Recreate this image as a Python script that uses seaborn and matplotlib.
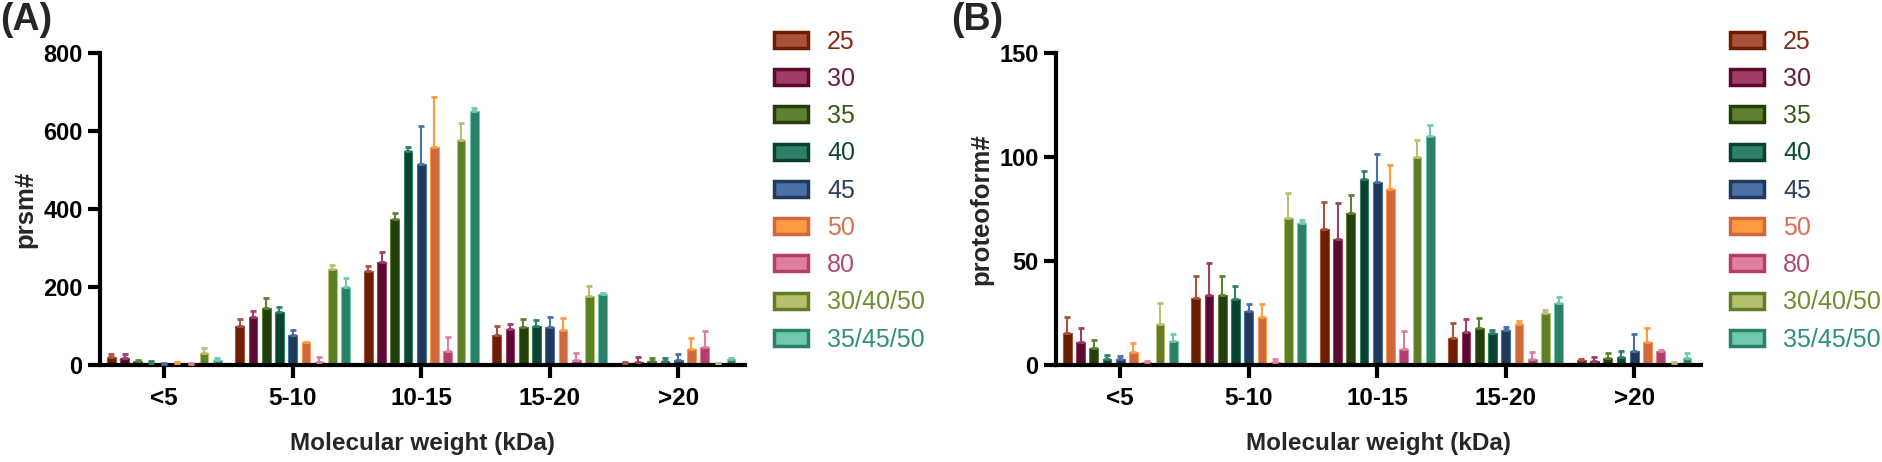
import numpy as np
import pandas as pd
import seaborn as sns
import matplotlib.pyplot as plt
from matplotlib.patches import Patch

# --- data (mean, upper error) ---
categories = ['<5', '5-10', '10-15', '15-20', '>20']
series = ['25', '30', '35', '40', '45', '50', '80', '30/40/50', '35/45/50']

# rows follow `series`, columns follow `categories`
prsm_mean = [
    [20, 100, 240, 78, 5],
    [19, 124, 264, 92, 8],
    [9, 146, 374, 97, 10],
    [6, 135, 549, 100, 10],
    [3, 77, 515, 97, 13],
    [6, 58, 559, 90, 41],
    [2, 7, 36, 13, 45],
    [32, 246, 576, 177, 4],
    [14, 200, 652, 183, 15],
]
prsm_sd = [
    [8, 18, 14, 22, 2],
    [9, 15, 26, 12, 13],
    [3, 26, 17, 20, 7],
    [3, 13, 11, 15, 9],
    [2, 14, 99, 27, 15],
    [2, 1, 128, 31, 27],
    [2, 14, 35, 19, 42],
    [12, 10, 46, 26, 1],
    [5, 22, 7, 2, 4],
]
proteo_mean = [
    [15.5, 32, 65.6, 13.1, 2.4],
    [11, 33.7, 60.6, 15.7, 1.9],
    [8.3, 33.7, 73.2, 17.9, 3.2],
    [2.9, 31.8, 89.6, 15.2, 3.7],
    [2.9, 25.9, 88, 16.8, 6.9],
    [6.4, 22.9, 84.8, 19.5, 11.2],
    [1.5, 1.3, 7.7, 2.7, 6.7],
    [19.5, 70.7, 100, 24.8, 1.0],
    [11.5, 68.3, 109.9, 29.6, 3.2],
]
proteo_sd = [
    [7.5, 11, 12.8, 6.9, 0.3],
    [7, 15.3, 17.3, 6.2, 2.1],
    [3.7, 9, 8.7, 4.5, 2.8],
    [1.9, 6.1, 3.6, 1.6, 3],
    [1.4, 3.5, 13.6, 1.6, 8],
    [4, 6.5, 11.5, 1.6, 6.7],
    [0.5, 1.6, 8.6, 3.7, 0.5],
    [10.1, 12, 8, 1.6, 0.5],
    [3.2, 1.6, 5.6, 2.9, 2.7],
]

# colours: bar fill (dark), lighter tint (bar edges / error bars / legend fill), label text
bar_colors = ['#6E1E00', '#5A0A30', '#233F0E', '#0A4232', '#203A5C',
              '#D0683F', '#B23E6C', '#5E7E25', '#2A8068']
light_colors = ['#A8523A', '#A03C66', '#5E8030', '#2E8068', '#4A70A8',
                '#FF9A40', '#E07EA0', '#B8C070', '#70C8B0']
text_colors = ['#8B2A10', '#6A1A45', '#3A5A18', '#0E4A38', '#2A4060',
               '#D87050', '#B04A78', '#6E8E30', '#309078']


def long_form(mean, sd):
    rows = []
    for s, m_row, e_row in zip(series, mean, sd):
        for c, m, e in zip(categories, m_row, e_row):
            rows.append({'mw': c, 'fraction': s, 'value': m, 'sd': e})
    return pd.DataFrame(rows)


sns.set_theme(style='ticks')
plt.rcParams['font.family'] = ['Liberation Sans', 'DejaVu Sans']

fig = plt.figure(figsize=(18.82, 4.62), dpi=100)
ax_a = fig.add_axes([100 / 1882, 0.21, 645 / 1882, 0.675])
ax_b = fig.add_axes([1056 / 1882, 0.21, 645 / 1882, 0.675])


def draw_panel(ax, df, ymax, yticks, ylabel):
    sns.barplot(data=df, x='mw', y='value', hue='fraction',
                order=categories, hue_order=series,
                palette=dict(zip(series, bar_colors)), saturation=1,
                errorbar=None, width=0.927, gap=0.34, legend=False, ax=ax)

    sd_lookup = df.set_index(['fraction', 'mw'])['sd']
    bar_sets = list(ax.containers)
    for i, cont in enumerate(bar_sets):
        xs, hs, errs = [], [], []
        for bar in cont:
            bar.set_edgecolor(light_colors[i])
            bar.set_linewidth(0.8)
            xc = bar.get_x() + bar.get_width() / 2
            xs.append(xc)
            hs.append(bar.get_height())
            errs.append(sd_lookup[(series[i], categories[int(round(xc))])])
        ax.errorbar(xs, hs, yerr=[np.zeros(len(errs)), errs], fmt='none',
                    ecolor=light_colors[i], elinewidth=1.5, capsize=2.5,
                    capthick=2, zorder=3)

    ax.set_xlim(-0.5, 4.52)
    ax.set_ylim(0, ymax)
    ax.set_yticks(yticks)
    sns.despine(ax=ax)
    for side in ['left', 'bottom']:
        ax.spines[side].set_linewidth(3)
        ax.spines[side].set_color('black')
    ax.tick_params(axis='x', length=9.5, width=3, labelsize=17.5, pad=6.5, colors='black')
    ax.tick_params(axis='y', length=9, width=3, labelsize=17, pad=3.5, colors='black')
    plt.setp(ax.get_xticklabels(), fontweight='bold')
    plt.setp(ax.get_yticklabels(), fontweight='bold')
    ax.set_xlabel('Molecular weight (kDa)', fontsize=17.5, fontweight='bold', labelpad=16)
    ax.set_ylabel(ylabel, fontsize=18.5, fontweight='bold', labelpad=4)

    handles = [Patch(facecolor=lc, edgecolor=bc, linewidth=2.5, label=s)
               for s, bc, lc in zip(series, bar_colors, light_colors)]
    ax.legend(handles=handles, loc='upper left', bbox_to_anchor=(1.045, 1.075),
              frameon=False, fontsize=18, handlelength=1.36, handleheight=0.6,
              handletextpad=0.76, labelspacing=0.53, borderaxespad=0, borderpad=0,
              labelcolor=text_colors)


draw_panel(ax_a, long_form(prsm_mean, prsm_sd), 800, [0, 200, 400, 600, 800], 'prsm#')
draw_panel(ax_b, long_form(proteo_mean, proteo_sd), 150, [0, 50, 100, 150], 'proteoform#')

fig.text(0.0, 1 - 20 / 462, '(A)', fontsize=27, fontweight='bold', va='center', ha='left')
fig.text(951 / 1882, 1 - 20 / 462, '(B)', fontsize=27, fontweight='bold', va='center', ha='left')

fig.savefig('out.png', dpi=100)
